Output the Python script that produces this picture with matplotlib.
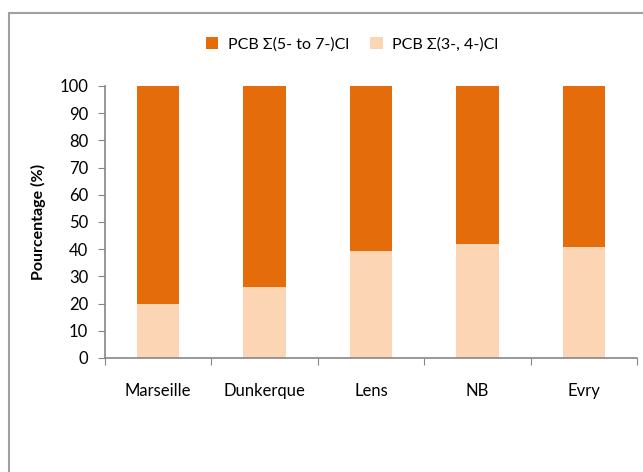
import matplotlib
matplotlib.use("Agg")
import matplotlib.pyplot as plt
from matplotlib.patches import Rectangle

plt.rcParams['font.family'] = ['Lato', 'DejaVu Sans']

# data
sites = ["Marseille", "Dunkerque", "Lens", "NB", "Evry"]
low_cl = [19.8, 26.2, 39.4, 41.9, 40.9]      # PCB sum(3-, 4-)Cl
high_cl = [100 - v for v in low_cl]          # PCB sum(5- to 7-)Cl

dark = "#E46C0A"
light = "#FCD5B5"
grey = "#868686"

W, H = 643, 472
fig = plt.figure(figsize=(W / 100, H / 100), dpi=100)
ax = fig.add_axes([105 / W, 1 - 358 / H, (637 - 105) / W, (358 - 86) / H])

# outer chart frame (right/bottom edge falls outside the picture)
fig.patches.append(Rectangle((9 / W, -0.1), 1.2, 1 - 13 / H + 0.1,
                             transform=fig.transFigure, fill=False,
                             edgecolor="#A0A0A0", linewidth=1.5))

x = range(len(sites))
ax.bar(x, high_cl, 0.4, bottom=low_cl, color=dark, label="PCB Σ(5- to 7-)Cl")
ax.bar(x, low_cl, 0.4, color=light, label="PCB Σ(3-, 4-)Cl")

ax.set_xlim(-0.5, len(sites) - 0.5)
ax.set_ylim(0, 100)
ax.set_yticks(range(0, 101, 10))
# category separators as major ticks, names as minor labels
ax.set_xticks([i + 0.5 for i in range(-1, len(sites))], minor=False)
ax.set_xticklabels([])
ax.set_xticks(list(x), minor=True)
ax.set_xticklabels(sites, minor=True)
ax.tick_params(axis="x", which="major", direction="out", length=5, color=grey)
ax.tick_params(axis="x", which="minor", length=0, pad=18, labelsize=12)
ax.tick_params(axis="y", direction="out", length=5, color=grey, labelsize=12, pad=7)

for s in ["top", "right"]:
    ax.spines[s].set_visible(False)
for s in ["left", "bottom"]:
    ax.spines[s].set_color(grey)
    ax.spines[s].set_linewidth(1.2)

ax.set_ylabel("Pourcentage (%)", fontsize=11.5, fontweight="bold", labelpad=10)

fig.legend(loc="center", bbox_to_anchor=(352 / W, 1 - 44 / H), ncol=2,
           frameon=False, fontsize=11.5, handlelength=0.8, handleheight=0.8,
           handletextpad=0.6, columnspacing=1.3)

fig.savefig("out.png", dpi=100)
